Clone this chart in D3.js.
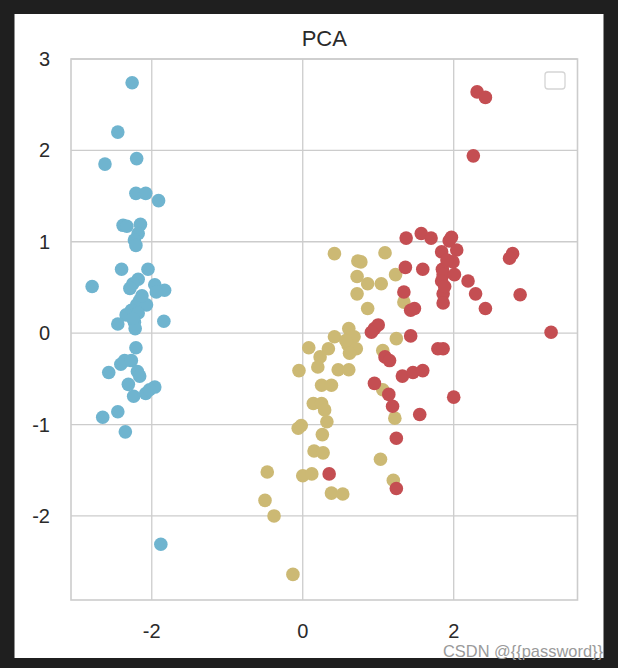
<!DOCTYPE html>
<html>
<head>
    <meta charset="utf-8">
    <script src="https://d3js.org/d3.v7.min.js"></script>
    <style>
        body { margin: 0; background: #1f1f1f; }
        svg { display: block; }
        .grid line { stroke: #cccccc; stroke-width: 1.3; }
        .tick-label { font-family: "Liberation Sans", Arial, sans-serif; font-size: 20px; fill: #2a2a2a; }
    </style>
</head>
<body>
    <div id="chart"></div>
    <script>
        // PCA scores, one pair of arrays per class
        var setosaX = [-2.26, -2.45, -2.20, -2.62, -2.21, -2.08, -1.91, -2.38, -2.33, -2.15,
                       -2.18, -2.23, -2.21, -2.40, -2.05, -2.79, -2.18, -2.25, -2.29, -1.96,
                       -1.83, -1.94, -2.16, -2.20, -2.07, -2.27, -2.34, -2.18, -2.23, -2.45,
                       -1.84, -2.22, -2.21, -2.36, -2.41, -2.27, -2.57, -2.19, -2.16, -2.31,
                       -1.96, -2.08, -2.24, -2.45, -2.65, -2.35, -1.88, -2.13, -2.25, -2.03];
        var setosaY = [2.74, 2.20, 1.91, 1.85, 1.53, 1.53, 1.45, 1.18, 1.17, 1.19,
                       1.09, 1.02, 0.96, 0.70, 0.70, 0.51, 0.59, 0.54, 0.49, 0.53,
                       0.47, 0.45, 0.36, 0.31, 0.31, 0.25, 0.20, 0.22, 0.12, 0.10,
                       0.13, 0.05, -0.16, -0.30, -0.34, -0.30, -0.43, -0.42, -0.47, -0.56,
                       -0.59, -0.66, -0.69, -0.86, -0.92, -1.08, -2.31, 0.41, 0.16, -0.62];

        var versicolorX = [0.42, 0.73, 1.09, 0.72, 0.86, 1.04, 1.23, 0.72, 1.34, 0.86,
                           0.61, 0.42, 0.68, 1.24, 0.08, 0.34, 0.60, 0.71, 0.23, 0.62,
                           1.06, -0.05, 0.20, 0.47, 0.61, 0.25, 0.38, 0.14, 0.25, 0.29,
                           1.06, -0.02, 0.32, 1.22, -0.06, 0.26, 0.15, 0.27, -0.47, 0.00,
                           0.12, 0.38, 0.53, -0.50, -0.38, -0.13, 1.03, 1.20, 0.57, 0.77];
        var versicolorY = [0.87, 0.79, 0.88, 0.62, 0.54, 0.54, 0.64, 0.43, 0.34, 0.27,
                           0.05, -0.04, -0.04, -0.06, -0.16, -0.17, -0.13, -0.17, -0.26, -0.22,
                           -0.19, -0.41, -0.37, -0.40, -0.40, -0.57, -0.57, -0.77, -0.77, -0.84,
                           -0.62, -1.01, -0.97, -0.93, -1.04, -1.11, -1.29, -1.31, -1.52, -1.56,
                           -1.54, -1.75, -1.76, -1.83, -2.00, -2.64, -1.38, -1.61, -0.08, 0.78];

        var virginicaX = [2.31, 2.42, 2.26, 1.37, 1.57, 1.70, 1.94, 1.84, 2.04, 2.78,
                          2.74, 1.36, 1.59, 1.85, 1.86, 2.01, 1.84, 2.19, 1.34, 1.86,
                          1.86, 2.29, 2.88, 1.48, 1.43, 2.42, 0.95, 1.00, 0.91, 1.43,
                          3.29, 1.79, 1.86, 1.09, 1.15, 1.32, 1.46, 1.59, 0.95, 1.14,
                          1.19, 2.00, 1.55, 1.24, 0.35, 1.24, 1.97, 1.88, 1.99, 1.91];
        var virginicaY = [2.64, 2.58, 1.94, 1.04, 1.09, 1.04, 1.01, 0.89, 0.91, 0.87,
                          0.82, 0.72, 0.70, 0.70, 0.64, 0.64, 0.57, 0.57, 0.45, 0.43,
                          0.33, 0.43, 0.42, 0.27, 0.25, 0.27, 0.05, 0.09, 0.01, -0.03,
                          0.01, -0.17, -0.17, -0.26, -0.30, -0.47, -0.43, -0.41, -0.55, -0.67,
                          -0.80, -0.70, -0.89, -1.15, -1.54, -1.70, 1.05, 0.51, 0.78, 0.80];

        var xTicks = [-2, 0, 2];
        var yTicks = [-2, -1, 0, 1, 2, 3];
        var title = "PCA";

        var series = [
            {xs: setosaX, ys: setosaY, color: "#6fb4cf"},
            {xs: versicolorX, ys: versicolorY, color: "#ccb974"},
            {xs: virginicaX, ys: virginicaY, color: "#c44e52"}
        ];

        var width = 618, height = 668;
        var plot = {left: 71, right: 577.5, top: 59, bottom: 600};

        var svg = d3.select("#chart")
            .append("svg")
            .attr("width", width)
            .attr("height", height);

        // white page inside the dark frame
        svg.append("rect")
            .attr("x", 14.5).attr("y", 14)
            .attr("width", 589).attr("height", 644)
            .attr("fill", "#ffffff");

        var x = d3.scaleLinear().domain([-3.07, 3.64]).range([plot.left, plot.right]);
        var y = d3.scaleLinear().domain([-2.92, 3.0]).range([plot.bottom, plot.top]);

        ////////// grid //////////
        var grid = svg.append("g").attr("class", "grid");

        grid.selectAll(".vline")
            .data(xTicks)
            .enter().append("line")
            .attr("x1", function(d) { return x(d); })
            .attr("x2", function(d) { return x(d); })
            .attr("y1", plot.top)
            .attr("y2", plot.bottom);

        grid.selectAll(".hline")
            .data(yTicks)
            .enter().append("line")
            .attr("x1", plot.left)
            .attr("x2", plot.right)
            .attr("y1", function(d) { return y(d); })
            .attr("y2", function(d) { return y(d); });

        // frame round the axes
        svg.append("rect")
            .attr("x", plot.left).attr("y", plot.top)
            .attr("width", plot.right - plot.left)
            .attr("height", plot.bottom - plot.top)
            .attr("fill", "none")
            .attr("stroke", "#cccccc")
            .attr("stroke-width", 1.6);

        ////////// tick labels //////////
        svg.selectAll(".xlab")
            .data(xTicks)
            .enter().append("text")
            .attr("class", "tick-label")
            .attr("x", function(d) { return x(d); })
            .attr("y", plot.bottom + 38)
            .attr("text-anchor", "middle")
            .text(function(d) { return d; });

        svg.selectAll(".ylab")
            .data(yTicks)
            .enter().append("text")
            .attr("class", "tick-label")
            .attr("x", plot.left - 21)
            .attr("y", function(d) { return y(d) + 7; })
            .attr("text-anchor", "end")
            .text(function(d) { return d; });

        svg.append("text")
            .attr("x", (plot.left + plot.right) / 2)
            .attr("y", 46)
            .attr("text-anchor", "middle")
            .style("font-family", "Liberation Sans, Arial, sans-serif")
            .style("font-size", "22px")
            .style("fill", "#2a2a2a")
            .text(title);

        ////////// points //////////
        series.forEach(function(s) {
            svg.append("g")
              .selectAll("circle")
                .data(d3.range(s.xs.length))
                .enter().append("circle")
                .attr("cx", function(i) { return x(s.xs[i]); })
                .attr("cy", function(i) { return y(s.ys[i]); })
                .attr("r", 6.8)
                .attr("fill", s.color);
        });

        // empty legend box
        svg.append("rect")
            .attr("x", 545).attr("y", 72)
            .attr("width", 20).attr("height", 17)
            .attr("rx", 3)
            .attr("fill", "#ffffff")
            .attr("stroke", "#d5d5d5")
            .attr("stroke-width", 1.3);

        // watermark
        svg.append("text")
            .attr("x", 443)
            .attr("y", 657)
            .attr("textLength", 160)
            .attr("lengthAdjust", "spacingAndGlyphs")
            .style("font-family", "Liberation Sans Narrow, Arial Narrow, sans-serif")
            .style("font-size", "17px")
            .style("fill", "#9a9a9a")
            .text("CSDN @{{password}}");
    </script>
</body>
</html>
